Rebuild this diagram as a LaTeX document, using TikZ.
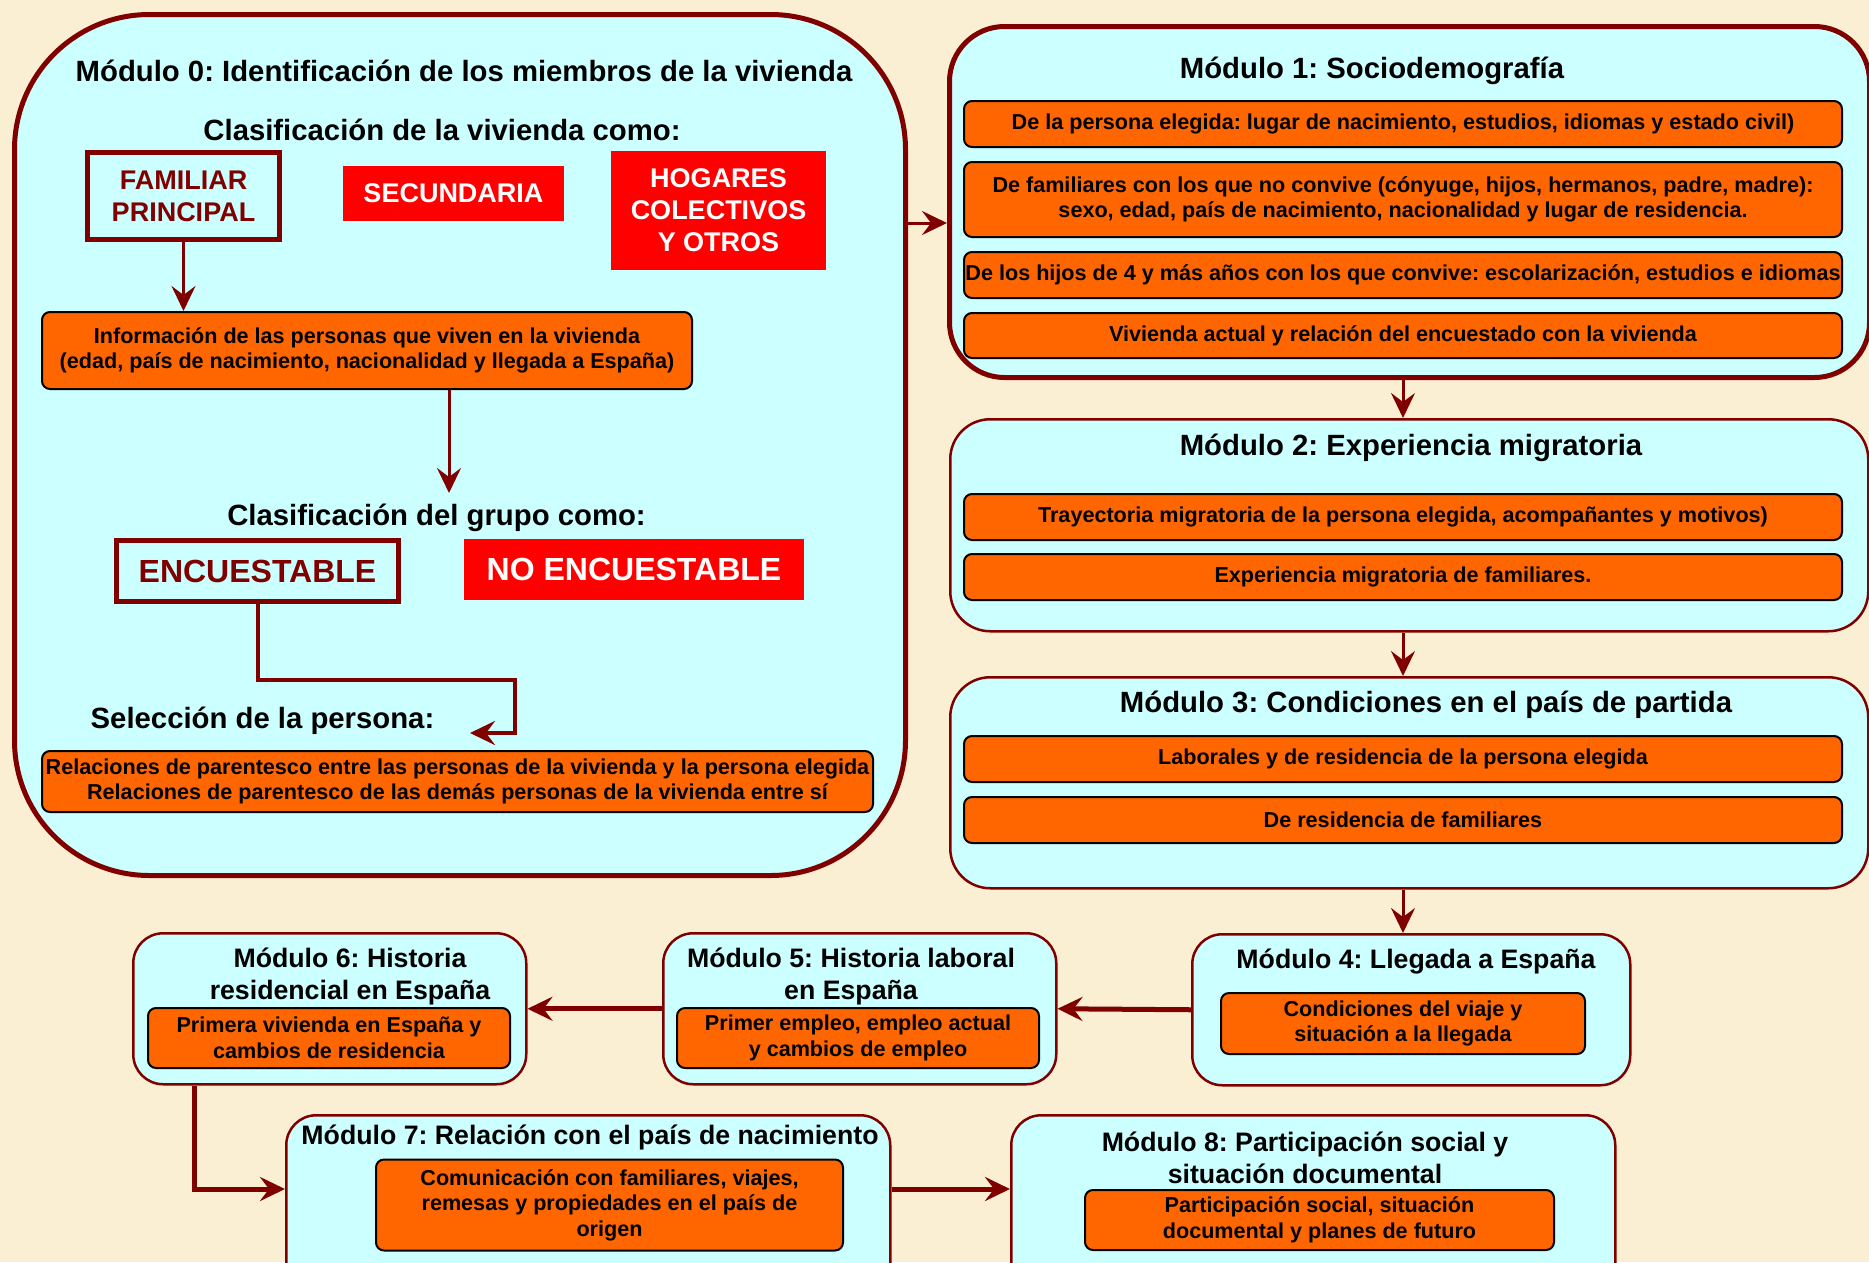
\documentclass[tikz,border=0pt]{standalone}
\usepackage{fontspec}
\setmainfont{Liberation Sans}
\usetikzlibrary{arrows.meta, calc}
\frenchspacing

\definecolor{fondo}{RGB}{250,239,211}
\definecolor{cian}{RGB}{204,255,255}
\definecolor{granate}{RGB}{128,0,0}
\definecolor{naranja}{RGB}{255,102,0}
\definecolor{rojo}{RGB}{255,0,0}

\begin{document}
\begin{tikzpicture}[x=1pt, y=-1pt,
    modulo/.style={draw=granate, fill=cian, line width=2.5pt, rounded corners=30pt, anchor=north west, inner sep=0pt},
    titulo/.style={font=\fontsize{29.3}{34}\selectfont\bfseries, align=center},
    subtitulo/.style={font=\fontsize{26.7}{32}\selectfont\bfseries, align=center},
    caja/.style={draw=black, fill=naranja, line width=2pt, rounded corners=8pt, align=center, inner sep=0pt, font=\fontsize{21.6}{25.5}\selectfont\bfseries},
    marco/.style={draw=granate, line width=5pt, text=granate, align=center, inner sep=0pt},
    roja/.style={fill=rojo, text=white, align=center, inner sep=0pt},
    flecha/.style={draw=granate, line width=3pt, -{Stealth[length=25pt, width=24pt, inset=9pt]}}]
    \useasboundingbox (0,0) rectangle (1869,1262);
    \clip (0,0) rectangle (1869,1262);
    \fill[fondo] (0,0) rectangle (1869,1262);

    % modulo 0
    \node[modulo, line width=5pt, rounded corners=135pt, minimum width=891, minimum height=861] (m0) at (12,12) {};
    \node[titulo] (t0) at (464,71) {Módulo 0: Identificación de los miembros de la vivienda};
    \node[titulo] (clasviv) at (442,130) {Clasificación de la vivienda como:};
    \node[marco, minimum width=192, minimum height=87, font=\fontsize{27}{32}\selectfont\bfseries] (fam) at (183.5,196) {FAMILIAR\\PRINCIPAL};
    \node[roja, minimum width=221, minimum height=55, font=\fontsize{27}{32}\selectfont\bfseries] (sec) at (453.5,193.5) {SECUNDARIA};
    \node[roja, minimum width=215, minimum height=119, font=\fontsize{27}{32}\selectfont\bfseries] (hog) at (718.5,210.5) {HOGARES\\COLECTIVOS\\Y OTROS};
    \node[caja, minimum width=650, minimum height=77] (info) at (367,350.5) {Información de las personas que viven en la vivienda\\(edad, país de nacimiento, nacionalidad y llegada a España)};
    \node[titulo] (clasgru) at (436.5,518) {Clasificación del grupo como:};
    \node[marco, minimum width=282, minimum height=61, font=\fontsize{32}{36}\selectfont\bfseries] (enc) at (257.5,571) {ENCUESTABLE};
    \node[roja, minimum width=340, minimum height=61, font=\fontsize{32}{36}\selectfont\bfseries] (noenc) at (634,569.5) {NO ENCUESTABLE};
    \node[titulo] (sel) at (262.5,721) {Selección de la persona:};
    \node[caja, minimum width=831, minimum height=61] (rel) at (457.5,781.5) {Relaciones de parentesco entre las personas de la vivienda y la persona elegida\\Relaciones de parentesco de las demás personas de la vivienda entre sí};
    \coordinate (tipclas) at (449,493);
    \coordinate (tipsel) at (470,733);
    \draw[flecha] (fam.south) -- (fam.south |- info.north);
    \draw[flecha] (info.south -| tipclas) -- (tipclas);
    \draw[flecha, line width=4pt] (enc.south) -- ++(0,76) -| (515,733) -- (tipsel);

    % modulo 1
    \node[modulo, line width=5pt, rounded corners=55pt, minimum width=920, minimum height=351] (m1) at (947,24) {};
    \node[titulo] (t1) at (1372,71) {Módulo 1: Sociodemografía};
    \node[caja, minimum width=878, minimum height=46] (s1a) at (1403,124) {De la persona elegida: lugar de nacimiento, estudios, idiomas y estado civil)};
    \node[caja, minimum width=878, minimum height=75] (s1b) at (1403,199.5) {De familiares con los que no convive (cónyuge, hijos, hermanos, padre, madre):\\sexo, edad, país de nacimiento, nacionalidad y lugar de residencia.};
    \node[caja, minimum width=878, minimum height=46] (s1c) at (1403,275) {De los hijos de 4 y más años con los que convive: escolarización, estudios e idiomas};
    \node[caja, minimum width=878, minimum height=45] (s1d) at (1403,335.5) {Vivienda actual y relación del encuestado con la vivienda};
    \coordinate (sal0) at (904,223);
    \draw[flecha] (sal0) -- (sal0 -| m1.west);

    % modulo 2
    \node[modulo, rounded corners=40pt, minimum width=918, minimum height=212] (m2) at (949,418) {};
    \node[titulo] (t2) at (1411,448) {Módulo 2: Experiencia migratoria};
    \node[caja, minimum width=878, minimum height=46] (s2a) at (1403,517) {Trayectoria migratoria de la persona elegida, acompañantes y motivos)};
    \node[caja, minimum width=878, minimum height=46] (s2b) at (1403,577) {Experiencia migratoria de familiares.};
    \draw[flecha] (s1d |- m1.south) -- (s1d |- m2.north);

    % modulo 3
    \node[modulo, rounded corners=40pt, minimum width=918, minimum height=211] (m3) at (949,676) {};
    \node[titulo] (t3) at (1426,705) {Módulo 3: Condiciones en el país de partida};
    \node[caja, minimum width=878, minimum height=46] (s3a) at (1403,759) {Laborales y de residencia de la persona elegida};
    \node[caja, minimum width=878, minimum height=46] (s3b) at (1403,820) {De residencia de familiares};
    \draw[flecha] (s2b |- m2.south) -- (s2b |- m3.north);

    % modulos 4 a 8
    \node[modulo, minimum width=438, minimum height=151] (m4) at (1191,933) {};
    \node[subtitulo] (t4) at (1416,962) {Módulo 4: Llegada a España};
    \node[caja, minimum width=364, minimum height=61] (s4) at (1403,1023.5) {Condiciones del viaje y\\situación a la llegada};
    \draw[flecha] (s3b |- m3.south) -- (s3b |- m4.north);

    \node[modulo, minimum width=393, minimum height=151] (m5) at (662,932) {};
    \node[subtitulo] (t5) at (851,976) {Módulo 5: Historia laboral\\en España};
    \node[caja, minimum width=362, minimum height=60] (s5) at (858,1038) {Primer empleo, empleo actual\\y cambios de empleo};

    \node[modulo, minimum width=393, minimum height=151] (m6) at (132,932) {};
    \node[subtitulo] (t6) at (350,976) {Módulo 6: Historia\\residencial en España};
    \node[caja, minimum width=362, minimum height=60] (s6) at (329,1038) {Primera vivienda en España y\\cambios de residencia};

    \node[modulo, minimum width=604, minimum height=200] (m7) at (285,1114) {};
    \node[subtitulo] (t7) at (590,1137) {Módulo 7: Relación con el país de nacimiento};
    \node[caja, minimum width=467, minimum height=91] (s7) at (609.5,1205) {Comunicación con familiares, viajes,\\remesas y propiedades en el país de\\origen};

    \node[modulo, minimum width=604, minimum height=200] (m8) at (1010,1114) {};
    \node[subtitulo] (t8) at (1305,1158) {Módulo 8: Participación social y\\situación documental};
    \node[caja, minimum width=469, minimum height=60] (s8) at (1319.5,1220) {Participación social, situación\\documental y planes de futuro};

    \coordinate (codo) at (194,1189);
    \draw[flecha, line width=5pt] (m4.west) -- (m5.east);
    \draw[flecha, line width=5pt] (m5.west) -- (m6.east);
    \draw[flecha, line width=5pt] (m6.south -| codo) |- (m7.west |- codo);
    \draw[flecha, line width=5pt] (m7.east |- codo) -- (m8.west |- codo);
\end{tikzpicture}
\end{document}
